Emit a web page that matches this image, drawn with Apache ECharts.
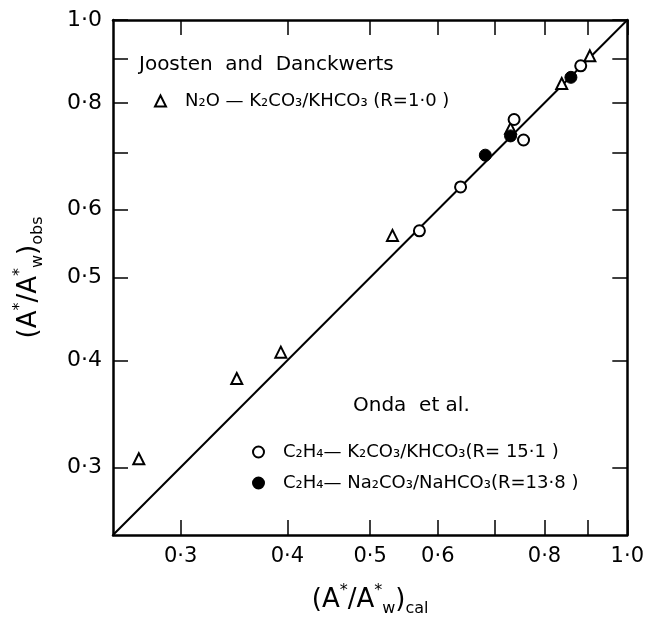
<!DOCTYPE html>
<html>
<head>
<meta charset="utf-8">
<script src="https://cdn.jsdelivr.net/npm/echarts@6/dist/echarts.min.js"></script>
<style>
  html, body { margin: 0; padding: 0; background: #fff; }
  #main { width: 647px; height: 622px; }
</style>
</head>
<body>
<div id="main"></div>
<script>
// data: [calc, obs]
var joostenN2O = [[0.268, 0.307], [0.349, 0.381], [0.393, 0.409], [0.531, 0.560], [0.730, 0.747], [0.838, 0.843], [0.904, 0.908]]
var ondaK = [[0.571, 0.567], [0.638, 0.638], [0.737, 0.765], [0.756, 0.724], [0.882, 0.884]]
var ondaNa = [[0.682, 0.695], [0.730, 0.732], [0.859, 0.857]]
var diagonal = [[0.25, 0.25], [1.0, 1.0]]

var tickValues = [0.3, 0.4, 0.5, 0.6, 0.7, 0.8, 0.9, 1.0]
var xLabelValues = [0.3, 0.4, 0.5, 0.6, 0.8, 1.0]
var yLabelValues = [0.3, 0.4, 0.5, 0.6, 0.8, 1.0]

var nameN2O = 'N₂O — K₂CO₃/KHCO₃ (R=1·0 )'
var nameK = 'C₂H₄— K₂CO₃/KHCO₃(R= 15·1 )'
var nameNa = 'C₂H₄— Na₂CO₃/NaHCO₃(R=13·8 )'

var FONT = 'DejaVu Sans'
var fmt = function (v) { return v.toFixed(1).replace('.', '·') }

var chart = echarts.init(document.getElementById('main'))

function baseAxis(pos, labels, fs) {
  return {
    type: 'log',
    position: pos,
    min: 0.25,
    max: 1.0,
    axisLine: { show: true, lineStyle: { color: '#000', width: 2.5 } },
    axisTick: { show: true, inside: true, length: 15, customValues: tickValues, lineStyle: { color: '#000', width: 1.5 } },
    axisLabel: labels ? {
      show: true, customValues: labels, formatter: fmt,
      color: '#000', fontFamily: FONT, fontSize: fs, margin: 11
    } : { show: false },
    splitLine: { show: false },
    minorTick: { show: false }
  }
}

var titleRich = {
  n: { fontSize: 26, fontFamily: FONT, color: '#000', lineHeight: 34 },
  sup: { fontSize: 16, fontFamily: FONT, color: '#000', verticalAlign: 'top', lineHeight: 16 },
  sub: { fontSize: 16, fontFamily: FONT, color: '#000', verticalAlign: 'bottom', lineHeight: 16 }
}

var xMain = baseAxis('bottom', xLabelValues, 21)
xMain.name = '{n|(A}{sup|*}{n|/A}{sup|*}{sub|w}{n|)}{sub|cal}'
xMain.nameLocation = 'middle'
xMain.nameGap = 48
xMain.nameTextStyle = { rich: titleRich }

var yMain = baseAxis('left', yLabelValues, 22)
yMain.name = '{n|(A}{sup|*}{n|/A}{sup|*}{sub|w}{n|)}{sub|obs}'
yMain.nameLocation = 'middle'
yMain.nameGap = 67
yMain.nameRotate = 90
yMain.nameTextStyle = { rich: titleRich }

var legendText = { color: '#000', fontFamily: FONT, fontSize: 18, padding: [0, 0, 0, 14] }

var option = {
  backgroundColor: '#fff',
  animation: false,
  grid: { left: 113, right: 14, top: 20, bottom: 84 },
  xAxis: [xMain, baseAxis('top', null)],
  yAxis: [yMain, baseAxis('right', null)],
  legend: [
    {
      data: [nameN2O], left: 154, top: 92, padding: 0,
      itemWidth: 11, itemHeight: 11, itemGap: 14,
      textStyle: legendText
    },
    {
      data: [nameK, nameNa], orient: 'vertical', left: 252, top: 443, padding: 0,
      itemWidth: 11, itemHeight: 11, itemGap: 13,
      textStyle: legendText
    }
  ],
  graphic: [
    { type: 'text', left: 139, top: 55, style: { text: 'Joosten  and  Danckwerts', fill: '#000', font: '20px "DejaVu Sans"' } },
    { type: 'text', left: 353, top: 396, style: { text: 'Onda  et al.', fill: '#000', font: '20px "DejaVu Sans"' } }
  ],
  series: [
    {
      type: 'line', data: diagonal, symbol: 'none', silent: true,
      lineStyle: { color: '#000', width: 2 }, z: 1
    },
    {
      name: nameN2O, type: 'scatter', data: joostenN2O,
      symbol: 'triangle', symbolSize: 11,
      itemStyle: { color: '#fff', borderColor: '#000', borderWidth: 2, opacity: 1 }, z: 3
    },
    {
      name: nameK, type: 'scatter', data: ondaK,
      symbol: 'circle', symbolSize: 11,
      itemStyle: { color: '#fff', borderColor: '#000', borderWidth: 2, opacity: 1 }, z: 3
    },
    {
      name: nameNa, type: 'scatter', data: ondaNa,
      symbol: 'circle', symbolSize: 12,
      itemStyle: { color: '#000', borderColor: '#000', borderWidth: 1, opacity: 1 }, z: 4
    }
  ]
}

chart.setOption(option)
</script>
</body>
</html>
